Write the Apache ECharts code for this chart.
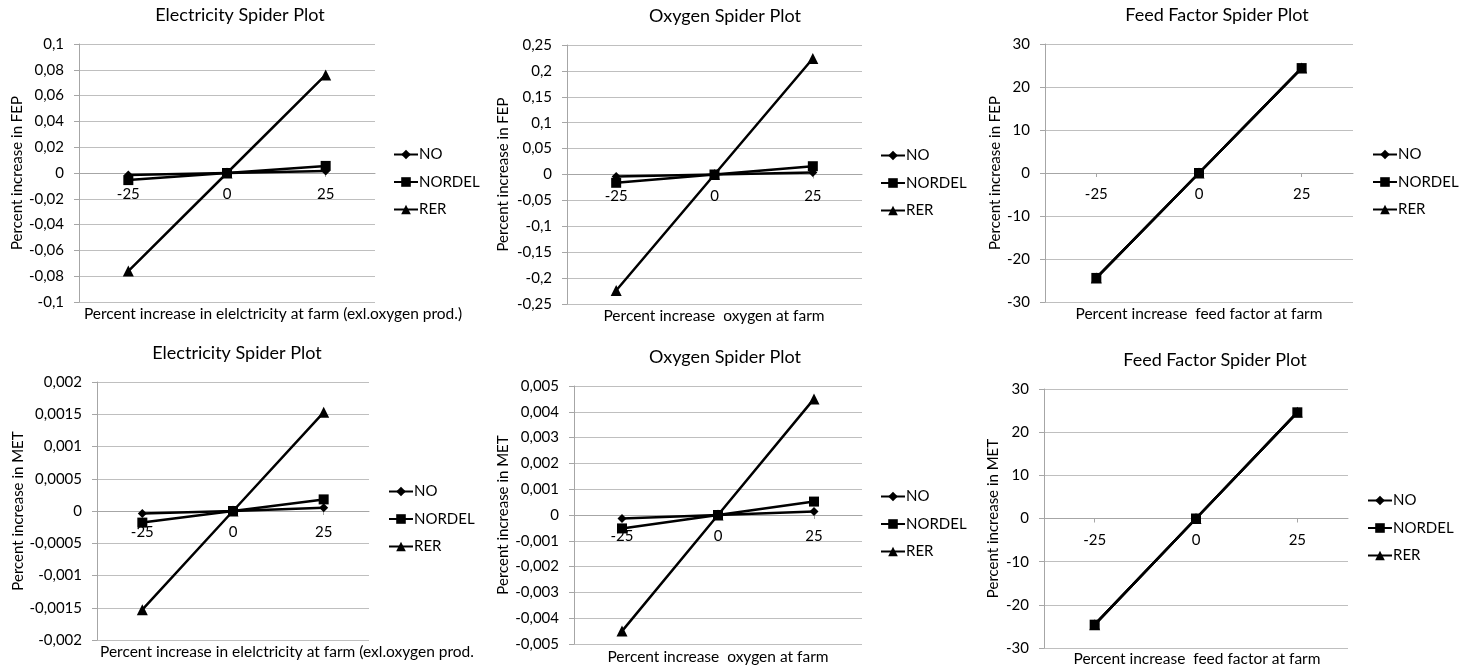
<!DOCTYPE html>
<html>
<head>
<meta charset="utf-8">
<title>Spider Plots</title>
<script src="https://cdn.jsdelivr.net/npm/echarts@6/dist/echarts.min.js"></script>
<style>
  body { margin: 0; background: #fff; }
  #chart { width: 1465px; height: 672px; }
</style>
</head>
<body>
<div id="chart"></div>
<script>
  // x categories (percent change of the input)
  var categories = ['-25', '0', '25']

  // ---- FEP (top row) ----
  var elecFepNO = [-0.0015, 0, 0.0015]
  var elecFepNORDEL = [-0.0055, 0, 0.0055]
  var elecFepRER = [-0.076, 0, 0.076]

  var oxyFepNO = [-0.004, 0, 0.004]
  var oxyFepNORDEL = [-0.016, 0, 0.016]
  var oxyFepRER = [-0.224, 0, 0.224]

  var feedFepNO = [-24.4, 0, 24.4]
  var feedFepNORDEL = [-24.4, 0, 24.4]
  var feedFepRER = [-24.4, 0, 24.4]

  // ---- MET (bottom row) ----
  var elecMetNO = [-0.00004, 0, 0.00005]
  var elecMetNORDEL = [-0.00018, 0, 0.00018]
  var elecMetRER = [-0.00153, 0, 0.00153]

  var oxyMetNO = [-0.00014, 0, 0.00014]
  var oxyMetNORDEL = [-0.00052, 0, 0.00052]
  var oxyMetRER = [-0.0045, 0, 0.0045]

  var feedMetNO = [-24.6, 0, 24.6]
  var feedMetNORDEL = [-24.6, 0, 24.6]
  var feedMetRER = [-24.6, 0, 24.6]

  // y axis ranges [min, max, interval]
  var yRanges = [
    [-0.1, 0.1, 0.02],
    [-0.25, 0.25, 0.05],
    [-30, 30, 10],
    [-0.002, 0.002, 0.0005],
    [-0.005, 0.005, 0.001],
    [-30, 30, 10]
  ]

  var titles = [
    'Electricity Spider Plot', 'Oxygen Spider Plot', 'Feed Factor Spider Plot',
    'Electricity Spider Plot', 'Oxygen Spider Plot', 'Feed Factor Spider Plot'
  ]
  var xNames = [
    'Percent increase in elelctricity at farm (exl.oxygen prod.)',
    'Percent increase  oxygen at farm',
    'Percent increase  feed factor at farm',
    'Percent increase in elelctricity at farm (exl.oxygen prod.',
    'Percent increase  oxygen at farm',
    'Percent increase  feed factor at farm'
  ]
  var yNames = [
    'Percent increase in FEP', 'Percent increase in FEP', 'Percent increase in FEP',
    'Percent increase in MET', 'Percent increase in MET', 'Percent increase in MET'
  ]

  var seriesData = [
    [elecFepNO, elecFepNORDEL, elecFepRER],
    [oxyFepNO, oxyFepNORDEL, oxyFepRER],
    [feedFepNO, feedFepNORDEL, feedFepRER],
    [elecMetNO, elecMetNORDEL, elecMetRER],
    [oxyMetNO, oxyMetNORDEL, oxyMetRER],
    [feedMetNO, feedMetNORDEL, feedMetRER]
  ]
  var seriesNames = ['NO', 'NORDEL', 'RER']

  // layout of every panel (pixels)
  var panels = [
    { grid: [79, 44, 296, 258],  title: [240, 6],   xName: [273, 306],  yGap: 54, legend: [393, 147] },
    { grid: [567, 45, 295, 259], title: [725, 7],   xName: [714, 308],  yGap: 56, legend: [880, 148] },
    { grid: [1045, 44, 308, 258], title: [1217, 6], xName: [1199, 306], yGap: 41, legend: [1372, 147] },
    { grid: [97, 382, 272, 258], title: [237, 344], xName: [100, 644],  yGap: 71, legend: [388, 484] },
    { grid: [574, 386, 288, 258], title: [725, 348], xName: [718, 649], yGap: 63, legend: [880, 489] },
    { grid: [1044, 389, 304, 259], title: [1215, 351], xName: [1197, 651], yGap: 43, legend: [1367, 493] }
  ]

  var symbols = ['diamond', 'rect', 'triangle']
  var symbolSizes = [9, 10, 11]
  var font = 'Lato'
  var axisGray = '#a6a6a6'

  function commaNum(v) {
    return String(v).replace('.', ',')
  }

  var option = {
    animation: false,
    backgroundColor: '#fff',
    textStyle: { fontFamily: font },
    title: [],
    legend: [],
    grid: [],
    xAxis: [],
    yAxis: [],
    series: []
  }

  panels.forEach(function (p, i) {
    var yMin = yRanges[i][0], yMax = yRanges[i][1]
    // distance from grid bottom up to the zero line (axis sits on zero)
    var zeroOffset = -p.grid[3] * (0 - yMin) / (yMax - yMin)

    // chart title
    option.title.push({
      text: titles[i],
      left: p.title[0],
      top: p.title[1],
      textAlign: 'center',
      padding: 0,
      textStyle: { fontFamily: font, fontSize: 18, fontWeight: 'normal', color: '#000' }
    })
    // x axis title sits under the plot, not on the zero line
    option.title.push({
      text: xNames[i],
      left: p.xName[0],
      top: p.xName[1],
      textAlign: i === 3 ? 'left' : 'center',
      padding: 0,
      textStyle: { fontFamily: font, fontSize: 15.5, fontWeight: 'normal', color: '#000' }
    })

    option.legend.push({
      orient: 'vertical',
      left: p.legend[0],
      top: p.legend[1],
      itemWidth: 24,
      itemHeight: 12,
      itemGap: 12.5,
      padding: 0,
      data: seriesNames,
      textStyle: { fontFamily: font, fontSize: 15, color: '#000', padding: [0, 0, 0, -4] }
    })

    option.grid.push({
      left: p.grid[0],
      top: p.grid[1],
      width: p.grid[2],
      height: p.grid[3]
    })

    option.xAxis.push({
      type: 'category',
      gridIndex: i,
      data: categories,
      boundaryGap: true,
      offset: zeroOffset,
      axisLine: { onZero: true, onZeroAxisIndex: i, lineStyle: { color: axisGray, width: 1 } },
      axisTick: { show: true, alignWithLabel: true, length: 4, lineStyle: { color: axisGray } },
      axisLabel: { margin: 14, fontFamily: font, fontSize: 15, color: '#000' },
      splitLine: { show: false }
    })

    option.yAxis.push({
      type: 'value',
      gridIndex: i,
      min: yMin,
      max: yMax,
      interval: yRanges[i][2],
      name: yNames[i],
      nameLocation: 'middle',
      nameGap: p.yGap,
      nameTextStyle: { fontFamily: font, fontSize: 15, color: '#000' },
      axisLine: { show: true, lineStyle: { color: axisGray, width: 1 } },
      axisTick: { show: true, length: 5, lineStyle: { color: axisGray } },
      axisLabel: { margin: 15, fontFamily: font, fontSize: 15, color: '#000', formatter: commaNum },
      splitLine: { show: true, lineStyle: { color: '#bfbfbf', width: 1 } }
    })

    seriesData[i].forEach(function (d, k) {
      option.series.push({
        name: seriesNames[k],
        type: 'line',
        xAxisIndex: i,
        yAxisIndex: i,
        data: d,
        symbol: symbols[k],
        symbolSize: symbolSizes[k],
        showAllSymbol: true,
        lineStyle: { color: '#000', width: 2.5 },
        itemStyle: { color: '#000' },
        z: 2 + k
      })
    })
  })

  var chart = echarts.init(document.getElementById('chart'))
  chart.setOption(option)
</script>
</body>
</html>
